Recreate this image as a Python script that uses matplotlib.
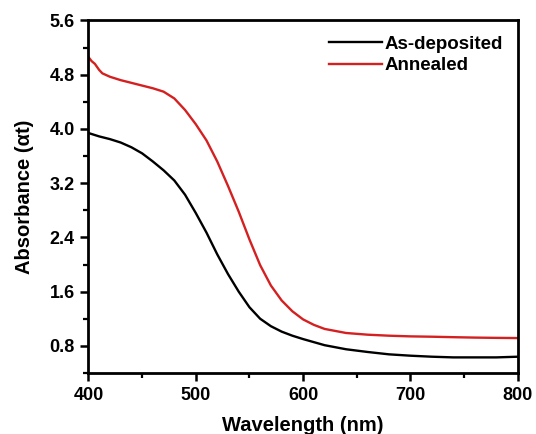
import numpy as np
import matplotlib
matplotlib.use('Agg')
import matplotlib.pyplot as plt
from matplotlib.ticker import MultipleLocator

plt.rcParams['font.family'] = ['Liberation Sans', 'DejaVu Sans']
plt.rcParams['font.weight'] = 'bold'

# As-deposited film (black)
wl_dep = [400, 410, 420, 430, 440, 450, 460, 470, 480, 490, 500, 510, 520, 530,
          540, 550, 560, 570, 580, 590, 600, 620, 640, 660, 680, 700, 720, 740,
          760, 780, 800]
abs_dep = [3.94, 3.89, 3.85, 3.80, 3.73, 3.64, 3.52, 3.39, 3.24, 3.03, 2.76, 2.47,
           2.15, 1.86, 1.60, 1.37, 1.20, 1.09, 1.01, 0.95, 0.90, 0.81, 0.75, 0.71,
           0.675, 0.655, 0.64, 0.63, 0.63, 0.63, 0.64]

# Annealed film (red)
wl_ann = [400, 403, 406, 410, 413, 420, 430, 440, 450, 460, 470, 480, 490, 500,
          510, 520, 530, 540, 550, 560, 570, 580, 590, 600, 610, 620, 640, 660,
          680, 700, 720, 740, 760, 780, 800]
abs_ann = [5.06, 5.00, 4.96, 4.87, 4.82, 4.77, 4.72, 4.68, 4.64, 4.60, 4.55, 4.45,
           4.28, 4.07, 3.83, 3.52, 3.16, 2.78, 2.37, 1.99, 1.69, 1.47, 1.31, 1.19,
           1.11, 1.05, 0.99, 0.965, 0.95, 0.94, 0.935, 0.928, 0.922, 0.918, 0.915]

fig = plt.figure(figsize=(5.36, 4.34), dpi=100)
ax = fig.add_axes([0.165, 0.1406, 0.801, 0.8122])

ax.plot(wl_dep, abs_dep, color='black', lw=1.7, label='As-deposited')
ax.plot(wl_ann, abs_ann, color='#d42020', lw=1.7, label='Annealed')

ax.set_xlim(400, 800)
ax.set_ylim(0.4, 5.6)
ax.xaxis.set_major_locator(MultipleLocator(100))
ax.xaxis.set_minor_locator(MultipleLocator(50))
ax.yaxis.set_minor_locator(MultipleLocator(0.4))
ax.set_yticks([0.8, 1.6, 2.4, 3.2, 4.0, 4.8, 5.6])
ax.set_yticklabels(['0.8', '1.6', '2.4', '3.2', '4.0', '4.8', '5.6'])

ax.tick_params(which='major', direction='out', length=6, width=1.8, labelsize=13, pad=4)
ax.tick_params(which='minor', direction='out', length=3.5, width=1.6)
for lab in ax.get_xticklabels() + ax.get_yticklabels():
    lab.set_fontweight('bold')
for sp in ax.spines.values():
    sp.set_linewidth(2.0)

ax.set_xlabel('Wavelength (nm)', fontsize=14.5, fontweight='bold', labelpad=9)
ax.set_ylabel('Absorbance (\u03b1t)', fontsize=14.5, fontweight='bold', labelpad=11)

ax.legend(loc='upper right', frameon=False, handlelength=2.8,
          handletextpad=0.15, borderaxespad=0.4, labelspacing=0.25,
          prop={'weight': 'bold', 'size': 13.5})

fig.savefig('out.png', dpi=100)
